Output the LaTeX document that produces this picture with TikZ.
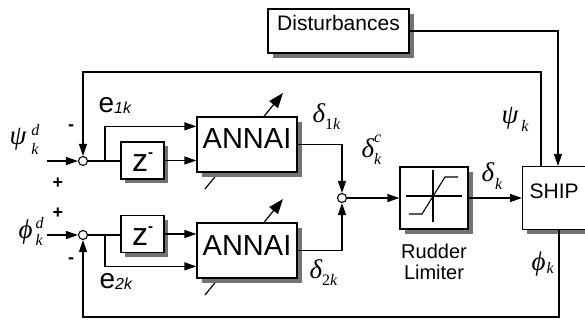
\documentclass[tikz,border=0pt]{standalone}
\usepackage{fontspec}
\setmainfont{Liberation Sans}
\newfontfamily\gk{Liberation Serif}
\usetikzlibrary{arrows.meta,shadows,calc}
% #1 kern, #2 raise sup, #3 lower sub, #4 base, #5 sup, #6 sub
\newcommand{\scrf}{\fontsize{16}{16}\selectfont\gk}
\newcommand{\gs}[6]{{\fontsize{27}{27}\selectfont\gk\itshape #4}\kern#1\rlap{\raisebox{#2}{\scrf\itshape #5}}\raisebox{-#3}{\scrf #6}}
\newcommand{\zm}{{\fontsize{32}{32}\selectfont z}\raisebox{14pt}{\fontsize{15}{15}\selectfont\bfseries -}}
\begin{document}
\begin{tikzpicture}[x=1pt,y=-1pt,line width=1.3pt,
  >={Triangle[length=12pt,width=8pt]},
  blk/.style={draw,fill=white,inner sep=0pt},
  shd/.style={drop shadow={shadow xshift=#1,shadow yshift=-#1,fill=black!55,opacity=1}},
  shd/.default=5pt,
  sumj/.style={circle,draw,line width=1.1pt,fill=white,minimum size=9pt,inner sep=0pt},
  lbl/.style={inner sep=0pt,anchor=base west},
  sgn/.style={inner sep=0pt,font=\fontsize{18}{18}\selectfont\bfseries},
  diag/.style={-{Triangle[length=15pt,width=11pt]},line width=1.2pt}]
\useasboundingbox (0,0) rectangle (585,320);

% diagonal adaptation arrows (drawn under the ANNAI boxes)
\coordinate (d1a) at (205,189); \coordinate (d1b) at (283,93);
\coordinate (d2a) at (205,295); \coordinate (d2b) at (283,199);
\draw[diag] (d1a) -- (d1b);
\draw[diag] (d2a) -- (d2b);

% blocks
\node[blk,shd,minimum width=141pt,text height=22pt,text depth=22pt,
      font=\fontsize{21}{21}\selectfont] (dist) at (338.5,31) {Disturbances};
\node[blk,shd=4pt,minimum width=43pt,text height=30pt,text depth=7pt] (z1) at (142.5,160.5) {\zm};
\node[blk,shd=4pt,minimum width=43pt,text height=30pt,text depth=7pt] (z2) at (142.5,234) {\zm};
\node[blk,shd,minimum width=100pt,text height=32pt,text depth=23pt,
      font=\fontsize{29}{29}\selectfont] (ann1) at (247,144.5) {ANNAI};
\node[blk,shd,minimum width=100pt,text height=32pt,text depth=23pt,
      font=\fontsize{29}{29}\selectfont] (ann2) at (247,250.5) {ANNAI};
\node[blk,shd,minimum width=68pt,minimum height=62pt] (lim) at (434,198) {};
\node[blk,shd=4pt,anchor=north west,inner xsep=7pt,text height=32pt,text depth=31pt,
      font=\fontsize{21}{21}\selectfont] (ship) at (522,166) {\makebox[66pt][l]{SHIP}};
\node[inner sep=0pt,anchor=north,align=center,font=\fontsize{20}{21}\selectfont] (limtxt)
      at (434,243) {Rudder\\Limiter};

% limiter symbol
\draw[line width=1.1pt] ($(lim.center)+(-28,-2)$) -- ($(lim.center)+(28,-2)$);
\draw[line width=1.1pt] ($(lim.center)+(-1,-28)$) -- ($(lim.center)+(-1,24)$);
\draw[line width=1.1pt] ($(lim.center)+(-25,16)$) -- ($(lim.center)+(-12,16)$)
   -- ($(lim.center)+(11,-21)$) -- ($(lim.center)+(24,-21)$);

% summing junctions
\node[sumj] (j1) at (83,161) {};
\node[sumj] (j2) at (83,235) {};
\node[sumj] (j3) at (342,198) {};

% inputs
\coordinate (in1) at (47,161);
\coordinate (in2) at (47,235);
\draw[->] (in1) -- (j1);
\draw[->] (in2) -- (j2);

% upper channel
\draw (j1.east) -- (j1.east -| z1.west);
\coordinate (b1) at (105,161);
\draw[->] (b1) |- ($(ann1.north west)+(0,10)$);
\draw[->] (z1.east) -- (z1.east -| ann1.west);
% lower channel
\draw (j2.east) -- (j2.east -| z2.west);
\coordinate (b2) at (105,235);
\draw[->] (b2) |- ($(ann2.north west)+(0,44)$);
\draw[->] (z2.east) -- (z2.east -| ann2.west);

% outputs to command junction
\draw[->] (ann1.east) -| (j3.north);
\draw[->] (ann2.east) -| (j3.south);
\draw[->] (j3.east) -- (lim.west);
\draw[->] (lim.east) -- (lim.east -| ship.west);

% disturbances
\draw[->] (dist.east) -| ($(ship.north west)+(36,0)$);

% feedback loops
\coordinate (tc) at (83,72);
\coordinate (bc) at (83,317);
\draw[->] ($(ship.north west)+(19,0)$) |- (tc) -- (j1.north);
\draw[->] ($(ship.south west)+(37,0)$) |- (bc) -- (j2.south);

% signs
\node[sgn] (p1) at (58,183) {+};
\node[sgn] (m1) at (71,128) {-};
\node[sgn] (p2) at (58,213) {+};
\node[sgn] (m2) at (71,261) {-};

% labels
\node[lbl] (lpsid) at (9,145) {\gs{5pt}{9pt}{10pt}{ψ}{d}{\itshape k}};
\node[lbl] (lphid) at (18,238) {\gs{3pt}{10pt}{7pt}{ϕ}{d}{\itshape k}};
\node[lbl] (le1) at (98,113) {{\fontsize{28}{28}\selectfont e}\raisebox{-1pt}{\fontsize{16}{16}\selectfont\itshape 1k}};
\node[lbl] (le2) at (99,288) {{\fontsize{28}{28}\selectfont e}\raisebox{-1pt}{\fontsize{16}{16}\selectfont\itshape 2k}};
\node[lbl] (ld1) at (312,123) {\gs{0pt}{12pt}{7pt}{δ}{}{1\itshape k}};
\node[lbl] (ld2) at (309,278) {\gs{0pt}{12pt}{7pt}{δ}{}{2\itshape k}};
\node[lbl] (ldc) at (361,158) {\gs{0pt}{15pt}{7pt}{δ}{c}{\itshape k}};
\node[lbl] (ldk) at (481,182) {\gs{1pt}{12pt}{8pt}{δ}{}{\itshape k}};
\node[lbl] (lpsik) at (501,124) {\gs{3pt}{12pt}{8pt}{ψ}{}{\itshape k}};
\node[lbl] (lphik) at (531,270) {\gs{1pt}{12pt}{3pt}{ϕ}{}{\itshape k}};
\end{tikzpicture}
\end{document}
